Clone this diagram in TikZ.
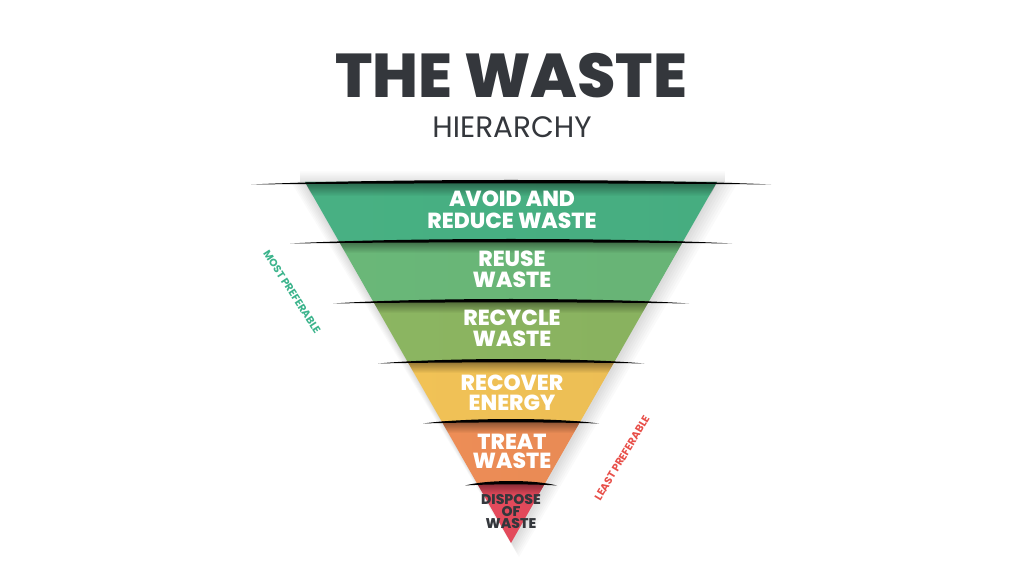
\documentclass[tikz,border=0pt]{standalone}
\usepackage{fontspec}
\setmainfont{Poppins}
\newfontfamily\heavy{Poppins ExtraBold}
\usetikzlibrary{fadings}
\definecolor{b1}{HTML}{4AB687}
\definecolor{b2}{HTML}{6DBD7C}
\definecolor{b3}{HTML}{90BB64}
\definecolor{b4}{HTML}{F6C658}
\definecolor{b5}{HTML}{F29058}
\definecolor{b6}{HTML}{EA4C5E}
\definecolor{ink}{HTML}{34373C}
\definecolor{mostc}{HTML}{3CB48C}
\definecolor{leastc}{HTML}{E8504A}
\tikzset{
  bandtxt/.style={text=white, font=\fontsize{15.5}{16}\selectfont\heavy, anchor=base, inner sep=0pt},
  disptxt/.style={text=ink, font=\fontsize{10}{11}\selectfont\heavy, anchor=base, inner sep=0pt},
  sidetxt/.style={font=\fontsize{7.5}{8}\selectfont\bfseries, inner sep=0pt},
  topshadow/.style={black, opacity=.42, path fading=south},
}
\newcommand{\sepline}[3]{% y, left x, right x
  \fill[black] (#2,#1+2.5) .. controls ({#2+(#3-#2)/4},#1-3.5) and ({#3-(#3-#2)/4},#1-3.5) .. (#3,#1+2.5)
     .. controls ({#3-(#3-#2)/4},#1+1) and ({#2+(#3-#2)/4},#1+1) .. cycle;}
\begin{document}
\begin{tikzpicture}[x={(0.025cm,0)}, y={(0,-0.025cm)}]
\useasboundingbox[fill=white] (0,0) rectangle (1024,576);

% title
\node[text=ink, font=\fontsize{44}{44}\selectfont\heavy, anchor=base, inner sep=0pt] (title) at (511,98) {THE WASTE};
\node[text=ink, font=\fontsize{21}{21}\selectfont, anchor=base, inner sep=0pt] (sub) at (512,138) {HIERARCHY};

% soft shadow of the funnel (both sides, stronger on the right)
\foreach \k in {1,...,7}{
  \fill[black, opacity=0.018] (305-2*\k,182) -- (717+3*\k,182) -- (512+\k,543+2*\k) -- cycle;
}
\fill[black, opacity=.12, path fading=north] (300,170) rectangle (725,182);

% bands
\shade[left color=b1!97!black, middle color=b1!85!white, right color=b1!95!black] (305,182) -- (717,182) -- (683.3,241) -- (338.7,241) -- cycle;
\shade[left color=b2!97!black, middle color=b2!85!white, right color=b2!95!black] (338.7,241) -- (683.3,241) -- (649.1,301) -- (372.9,301) -- cycle;
\shade[left color=b3!97!black, middle color=b3!85!white, right color=b3!95!black] (372.9,301) -- (649.1,301) -- (614.9,361) -- (407.1,361) -- cycle;
\shade[left color=b4!98!black, middle color=b4!88!white, right color=b4!96!black] (407.1,361) -- (614.9,361) -- (580.6,421) -- (441.4,421) -- cycle;
\shade[left color=b5!98!black, middle color=b5!88!white, right color=b5!96!black] (441.4,421) -- (580.6,421) -- (545.2,483) -- (476.8,483) -- cycle;
\shade[left color=b6!98!black, middle color=b6!88!white, right color=b6!96!black] (476.8,483) -- (545.2,483) -- (511,543) -- cycle;

% shadows under the cuts
\fill[topshadow] (305,182) -- (717,182) -- (710,196) -- (312,196) -- cycle;
\fill[topshadow] (338.7,241) -- (683.3,241) -- (676.5,253) -- (345.5,253) -- cycle;
\fill[topshadow] (372.9,301) -- (649.1,301) -- (642.3,313) -- (379.7,313) -- cycle;
\fill[topshadow] (407.1,361) -- (614.9,361) -- (608.1,373) -- (413.9,373) -- cycle;
\fill[topshadow] (441.4,421) -- (580.6,421) -- (573.8,433) -- (448.2,433) -- cycle;
\fill[topshadow] (476.8,483) -- (545.2,483) -- (538.4,495) -- (483.6,495) -- cycle;

% cut lines
\sepline{182}{251}{771}
\sepline{241}{290}{732}
\sepline{301}{333}{689}
\sepline{361}{378}{644}
\sepline{421}{423}{599}
\sepline{483}{465}{557}

% band texts
\node[bandtxt] (t1a) at (512,207) {AVOID AND};
\node[bandtxt] (t1b) at (512,229) {REDUCE WASTE};
\node[bandtxt] (t2a) at (512,267) {REUSE};
\node[bandtxt] (t2b) at (512,288) {WASTE};
\node[bandtxt] (t3a) at (512,326) {RECYCLE};
\node[bandtxt] (t3b) at (512,347) {WASTE};
\node[bandtxt] (t4a) at (512,390) {RECOVER};
\node[bandtxt] (t4b) at (512,410) {ENERGY};
\node[bandtxt] (t5a) at (512,449) {TREAT};
\node[bandtxt] (t5b) at (512,468) {WASTE};
\node[disptxt] (t6a) at (511,504) {DISPOSE};
\node[disptxt] (t6b) at (511,516) {OF};
\node[disptxt] (t6c) at (511,528) {WASTE};

% side labels
\node[sidetxt, text=mostc, rotate=-57] (most) at (292,292) {MOST PREFERABLE};
\node[sidetxt, text=leastc, rotate=59] (least) at (622,458) {LEAST PREFERABLE};
\end{tikzpicture}
\end{document}
